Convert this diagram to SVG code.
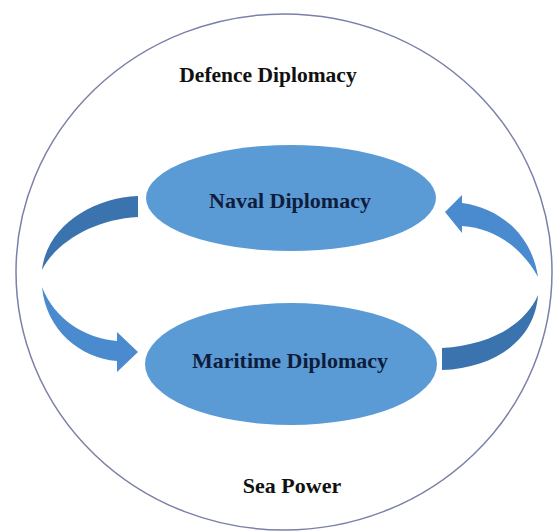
<svg xmlns="http://www.w3.org/2000/svg" width="555" height="532" viewBox="0 0 555 532">
<style>
.lbl{font-family:"Liberation Serif","Times New Roman",serif;font-weight:bold;text-anchor:middle}
.outer{fill:#111}
.inner{fill:#0f1d3c}
.node{fill:#5b9bd5}
.light{fill:#4a8bd0}
.dark{fill:#3a73ad}
</style>
<rect width="555" height="532" fill="#ffffff"/>
<g id="defence-diplomacy">
<ellipse cx="284" cy="272" rx="268" ry="258" fill="none" stroke="#7a80a8" stroke-width="1.5"/>
<text class="lbl outer" x="268" y="82" font-size="21.5">Defence Diplomacy</text>
</g>
<g id="sea-power">
<text class="lbl outer" x="292" y="493" font-size="22">Sea Power</text>
</g>
<g id="connectors">
<path class="dark" d="M138,196 C92,198 47,226 42,270 C56,242 95,219 138,217 Z"/>
<path class="light" d="M42,287 C46,330 80,358 117,361 L117,372 L138,352 L117,332 L117,341 C85,338 55,320 42,287 Z"/>
<path class="light" d="M445,212 L462,195 L462,203 C500,208 532,235 538,277 C522,248 495,228 462,226 L462,233 Z"/>
<path class="dark" d="M538,295 C535,340 495,368 442,370 L442,348 C490,345 525,325 538,295 Z"/>
</g>
<g id="naval-diplomacy">
<ellipse class="node" cx="291" cy="198" rx="145" ry="53"/>
<text class="lbl inner" x="290" y="208" font-size="22">Naval Diplomacy</text>
</g>
<g id="maritime-diplomacy">
<ellipse class="node" cx="291" cy="364" rx="146" ry="61"/>
<text class="lbl inner" x="290" y="368" font-size="22">Maritime Diplomacy</text>
</g>
</svg>
